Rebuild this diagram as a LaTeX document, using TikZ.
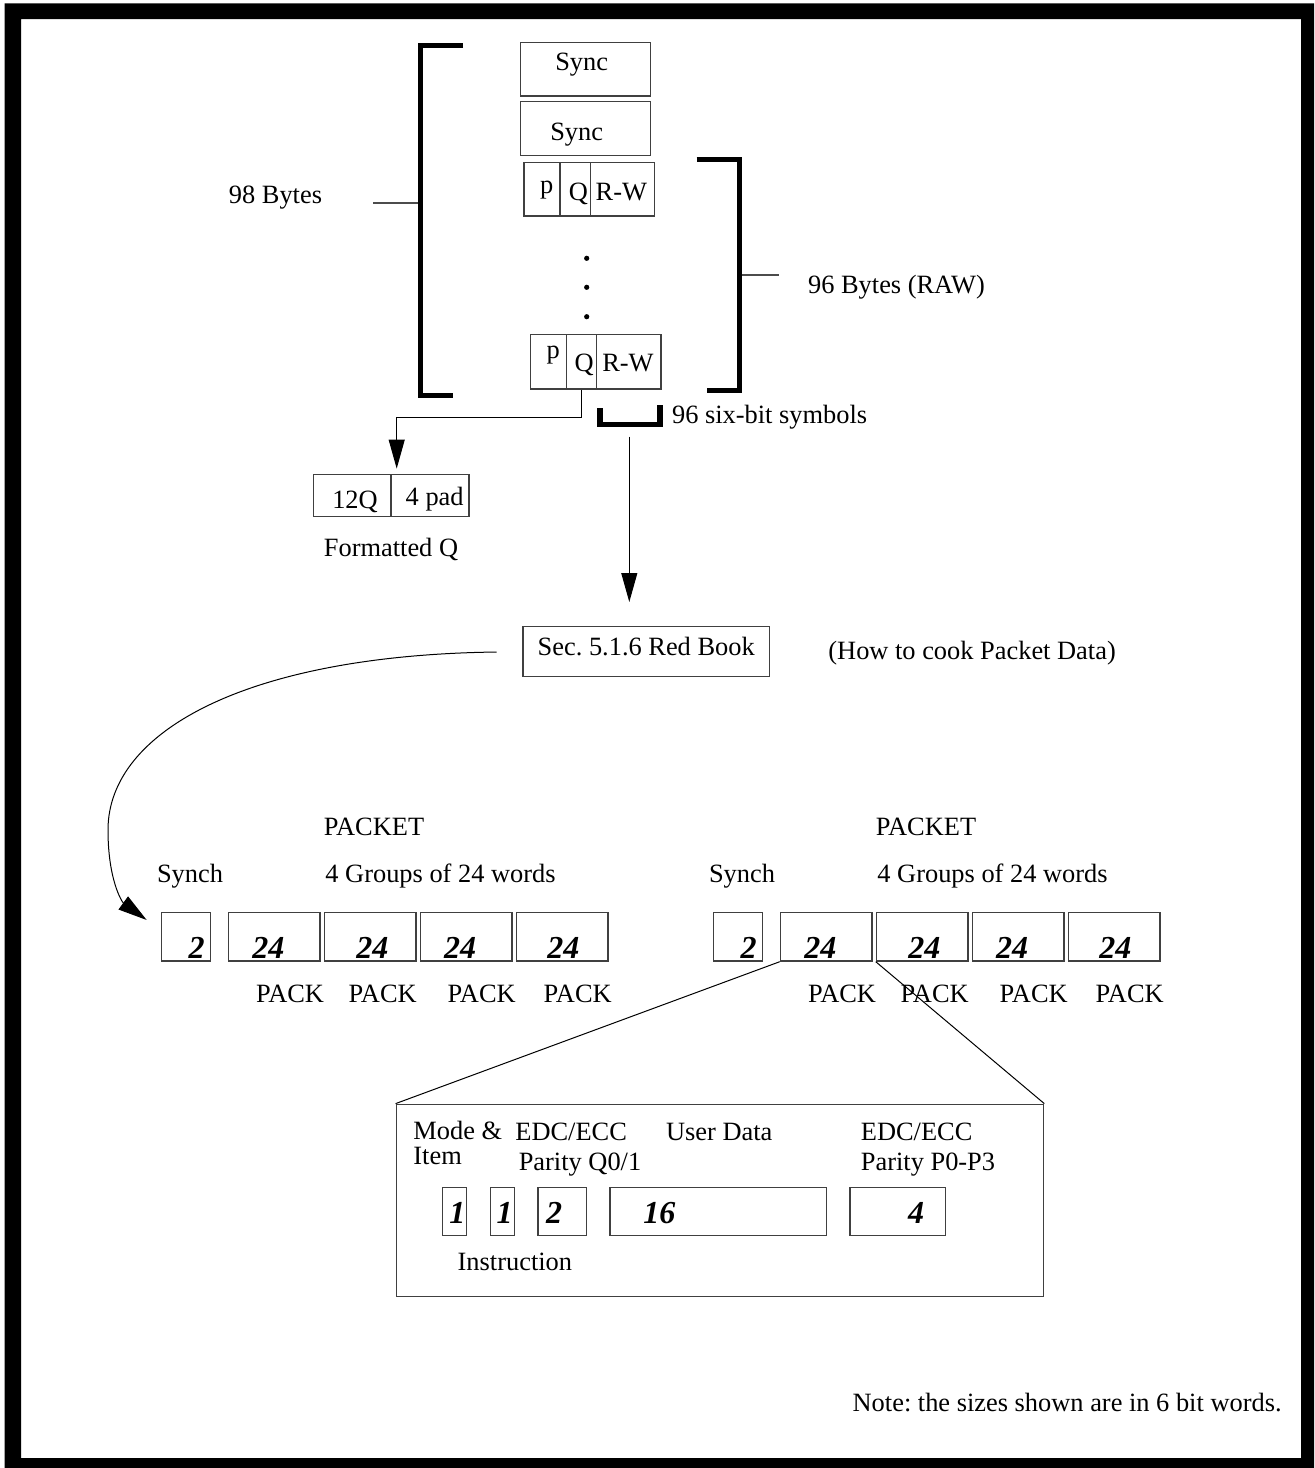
\documentclass[tikz,border=0pt]{standalone}
\usepackage{fontspec}
\setmainfont{Liberation Serif}
\usetikzlibrary{arrows.meta}
\frenchspacing

\tikzset{
  box/.style={draw=black!75, line width=0.7pt, inner sep=0pt},
  txt/.style={inner sep=0pt, anchor=base, font=\fontsize{13.2}{15.8}\selectfont},
  num/.style={inner sep=0pt, anchor=base, font=\fontsize{16}{19}\selectfont\bfseries\itshape},
  bracket/.style={line width=2.5pt, line join=miter},
  bigtip/.style={-{Triangle[length=14.5pt,width=8pt]}},
}

\begin{document}
\begin{tikzpicture}[x=0.5pt,y=-0.5pt]
  \useasboundingbox (0,0) rectangle (1314,1468);
  \fill[black,even odd rule] (4.5,3.3) rectangle (1314,1468) (21,19) rectangle (1301,1458);

  %The subcode frame:
  \node[box, minimum width=65pt, minimum height=26.85pt] (sync1) at (585.7,69.2) {};
  \node[txt] (sync1t) at (581.7,70.5) {Sync};
  \node[box, minimum width=65pt, minimum height=27pt] (sync2) at (585.7,128.7) {};
  \node[txt] (sync2t) at (576.7,140) {Sync};
  \node[box, minimum width=18pt, minimum height=26.85pt] (p1) at (542,189.2) {};
  \node[box, minimum width=15.15pt, minimum height=26.85pt] (q1) at (575.15,189.2) {};
  \node[box, minimum width=32pt, minimum height=26.85pt] (rw1) at (622.3,189.2) {};
  \node[txt] (p1t) at (546.7,193.3) {p};
  \node[txt] (q1t) at (578.3,200) {Q};
  \node[txt] (rw1t) at (621.3,200) {R-W};
  \foreach \y [count=\k] in {258.3,287.3,316.7}
    \node[circle, fill, inner sep=0pt, minimum size=2.6pt] (dot\k) at (586.7,\y) {};
  \node[box, minimum width=18pt, minimum height=27.35pt] (p2) at (548.7,361.7) {};
  \node[box, minimum width=15pt, minimum height=27.35pt] (q2) at (581.7,361.7) {};
  \node[box, minimum width=32.15pt, minimum height=27.35pt] (rw2) at (628.85,361.7) {};
  \node[txt] (p2t) at (553.3,358.3) {p};
  \node[txt] (q2t) at (584.2,371.7) {Q};
  \node[txt] (rw2t) at (628,371.7) {R-W};

  \draw[bracket] (463,45) -- (420.5,45) -- (420.5,395) -- (453,395);
  \draw[black!70, line width=0.6pt] (373,203) -- (418,203);
  \node[txt] (t98) at (275.5,203) {98 Bytes};
  \draw[bracket] (696.7,159.7) -- (739.2,159.7) -- (739.2,390) -- (707,390);
  \draw[black!70, line width=0.6pt] (741.7,275) -- (779,275);
  \node[txt] (t96raw) at (896.5,293) {96 Bytes (RAW)};

  %Q goes off to the left:
  \node[box, minimum width=38.85pt, minimum height=21.2pt] (q12) at (352.15,495.5) {};
  \node[box, minimum width=39pt, minimum height=21.2pt] (pad) at (430,495.5) {};
  \node[txt] (q12t) at (355,508) {12Q};
  \node[txt] (padt) at (434.7,505) {4 pad};
  \node[txt] (fmtq) at (391,556.5) {Formatted Q};
  \coordinate (qdrop) at (396.7,417);
  \draw[line width=0.5pt] (q2.south) |- (qdrop);
  \draw[line width=0.5pt, bigtip, shorten >=2.5pt] (qdrop) -- (qdrop |- pad.north);

  %R-W symbols down to the Red Book:
  \draw[line width=2.8pt, line join=miter] (599.7,408) -- (599.7,424.5) -- (659.7,424.5) -- (659.7,405);
  \coordinate (symb) at (629.3,427.3);
  \node[txt, anchor=base west] (t96six) at (671.7,423) {96 six-bit symbols};
  \node[box, minimum width=123.15pt, minimum height=25pt] (redbook) at (646.2,651.7) {};
  \node[txt] (redbookt) at (646.2,655) {Sec. 5.1.6 Red Book};
  \node[txt, anchor=base west] (cook) at (828,659) {(How to cook Packet Data)};
  \draw[line width=0.5pt, bigtip, shorten <=4.7pt, shorten >=12pt] (symb) -- (symb |- redbook.north);

  \coordinate (ctip) at (146.7,920);
  \draw[line width=0.5pt, bigtip, shorten <=12.85pt] (redbook.west) .. controls (250,655) and (108,730) .. (108,830)
    .. controls (108,880) and (122,902) .. (ctip);

  %Two packets:
  \foreach \side/\dx in {l/0,r/552} {
    \node[box, minimum width=24.5pt, minimum height=24.15pt] (\side sy) at (186.2+\dx,936.85) {};
    \node[num] (\side syn) at (196.7+\dx,958.3) {2};
    \foreach \i/\cx/\nx/\px in {1/274.15/268.3/290, 2/370.15/372.3/382.7, 3/466.2/460/481.7, 4/562.2/563.3/577.7} {
      \node[box, minimum width=45.7pt, minimum height=24.15pt] (\side p\i) at (\cx+\dx,936.85) {};
      \node[num] (\side n\i) at (\nx+\dx,958.3) {24};
      \node[txt] (\side k\i) at (\px+\dx,1002.7) {PACK};
    }
    \node[txt] (\side packet) at (374+\dx,835) {PACKET};
    \node[txt] (\side synch) at (190+\dx,882.3) {Synch};
    \node[txt, anchor=base west] (\side groups) at (325+\dx,882.3) {4 Groups of 24 words};
  }

  %One pack opened up:
  \node[box, minimum width=323.65pt, minimum height=96.2pt] (detail) at (719.95,1200.5) {};
  \draw[line width=0.5pt] (rp1.south west) -- (detail.north west);
  \draw[line width=0.5pt] (rp2.south west) -- (detail.north east);
  \foreach \i/\cx/\w/\nx/\lab in {1/454.6/12pt/457.3/1, 2/502.2/12pt/504.5/1, 3/562.3/24.2pt/554/2, 4/718.25/108.15pt/659.4/16, 5/897.8/47.8pt/916/4} {
    \node[box, minimum width=\w, minimum height=24pt] (d\i) at (\cx,1211.7) {};
    \node[num] (dn\i) at (\nx,1223.3) {\lab};
  }
  \node[txt, anchor=base west] (mode) at (413,1139) {Mode \&};
  \node[txt, anchor=base west] (item) at (413,1164) {Item};
  \node[txt, anchor=base west] (edcq) at (515,1140.5) {EDC/ECC};
  \node[txt, anchor=base west] (parq) at (518.4,1170.8) {Parity Q0/1};
  \node[txt, anchor=base west] (user) at (665.7,1140.5) {User Data};
  \node[txt, anchor=base west] (edcp) at (860.5,1140.5) {EDC/ECC};
  \node[txt, anchor=base west] (parp) at (860.5,1170.8) {Parity P0-P3};
  \node[txt, anchor=base west] (instr) at (457.3,1270.5) {Instruction};
  \node[txt, anchor=base east] (note) at (1282,1411) {Note: the sizes shown are in 6 bit words.};
\end{tikzpicture}
\end{document}
